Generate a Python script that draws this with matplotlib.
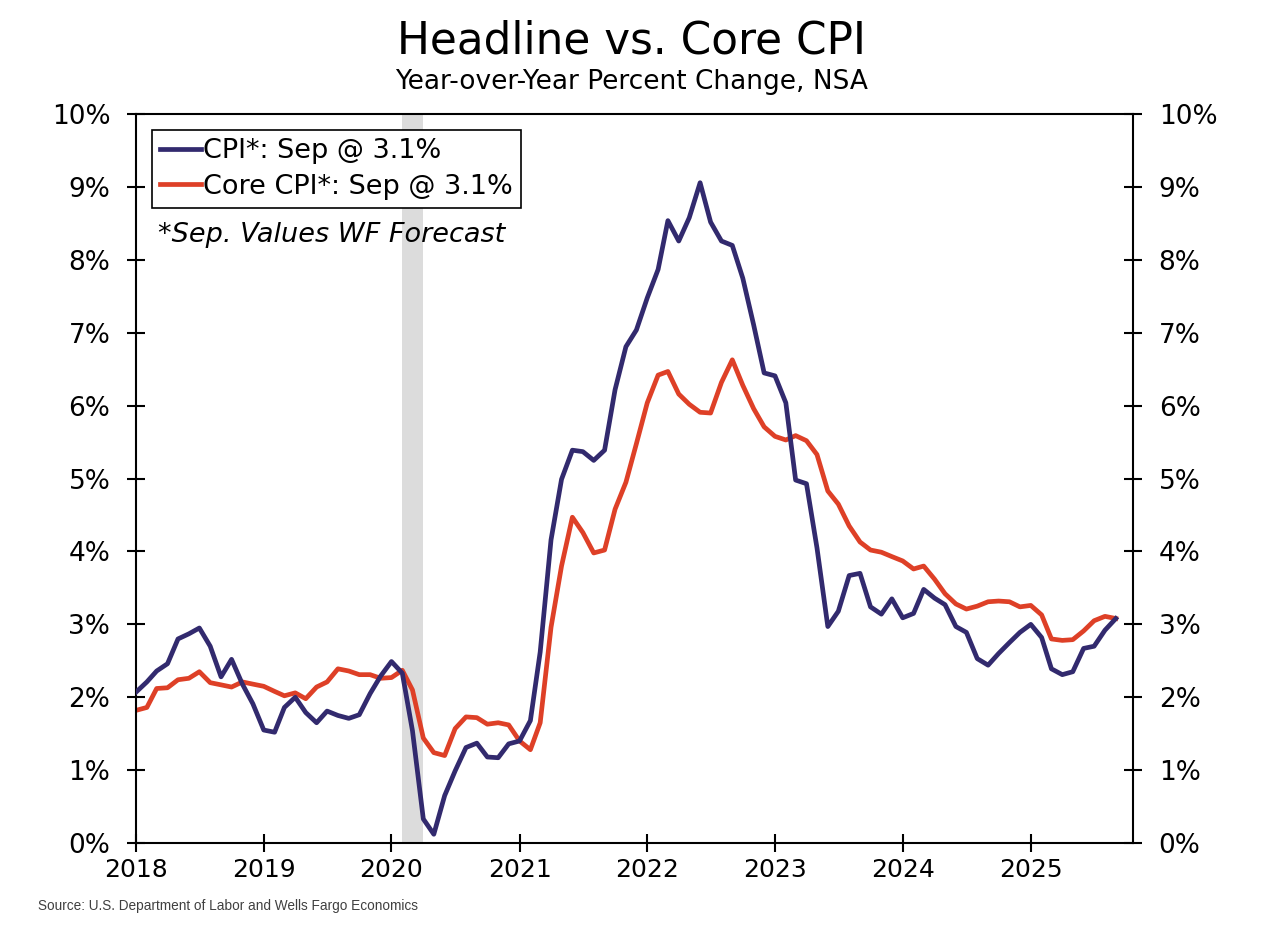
import numpy as np
import pandas as pd
import matplotlib.pyplot as plt
import matplotlib.dates as mdates

# Monthly YoY % change, Jan 2018 - Sep 2025
cpi = [2.07, 2.21, 2.36, 2.46, 2.80, 2.87, 2.95, 2.70, 2.28, 2.52, 2.18, 1.91,
       1.55, 1.52, 1.86, 2.00, 1.79, 1.65, 1.81, 1.75, 1.71, 1.76, 2.05, 2.29,
       2.49, 2.33, 1.54, 0.33, 0.12, 0.65, 0.99, 1.31, 1.37, 1.18, 1.17, 1.36,
       1.40, 1.68, 2.62, 4.16, 4.99, 5.39, 5.37, 5.25, 5.39, 6.22, 6.81, 7.04,
       7.48, 7.87, 8.54, 8.26, 8.58, 9.06, 8.52, 8.26, 8.20, 7.75, 7.11, 6.45,
       6.41, 6.04, 4.98, 4.93, 4.05, 2.97, 3.18, 3.67, 3.70, 3.24, 3.14, 3.35,
       3.09, 3.15, 3.48, 3.36, 3.27, 2.97, 2.89, 2.53, 2.44, 2.60, 2.75, 2.89,
       3.00, 2.82, 2.39, 2.31, 2.35, 2.67, 2.70, 2.92, 3.08]
core = [1.82, 1.86, 2.12, 2.13, 2.24, 2.26, 2.35, 2.20, 2.17, 2.14, 2.21, 2.18,
        2.15, 2.08, 2.02, 2.06, 1.98, 2.14, 2.21, 2.39, 2.36, 2.31, 2.31, 2.26,
        2.27, 2.37, 2.10, 1.44, 1.24, 1.20, 1.57, 1.73, 1.72, 1.63, 1.65, 1.62,
        1.40, 1.28, 1.65, 2.96, 3.80, 4.47, 4.26, 3.98, 4.02, 4.58, 4.95, 5.48,
        6.04, 6.42, 6.47, 6.16, 6.02, 5.91, 5.90, 6.32, 6.63, 6.28, 5.96, 5.71,
        5.58, 5.53, 5.59, 5.52, 5.33, 4.83, 4.65, 4.35, 4.13, 4.02, 3.99, 3.93,
        3.87, 3.76, 3.80, 3.62, 3.42, 3.28, 3.21, 3.25, 3.31, 3.32, 3.31, 3.24,
        3.26, 3.13, 2.80, 2.78, 2.79, 2.91, 3.05, 3.11, 3.08]
dates = pd.date_range("2018-01-01", periods=len(cpi), freq="MS")
recession = (pd.Timestamp("2020-02-01"), pd.Timestamp("2020-04-01"))
year_ticks = [pd.Timestamp(f"{y}-01-01") for y in range(2018, 2026)]

blue = "#322A6E"
red = "#DE4027"

plt.rcParams["font.family"] = ["DejaVu Sans"]
fig = plt.figure(figsize=(12.76, 9.44), dpi=100)
ax = fig.add_axes([0.1066, 0.107, 0.7813, 0.772])

ax.axvspan(recession[0], recession[1], color="#DCDCDC", lw=0, zorder=0)
ax.plot(dates, cpi, color=blue, lw=3.4, label="CPI*: Sep @ 3.1%", zorder=3)
ax.plot(dates, core, color=red, lw=3.4, label="Core CPI*: Sep @ 3.1%", zorder=2)

ax.set_xlim(pd.Timestamp("2018-01-01"), pd.Timestamp("2025-10-20"))
ax.set_ylim(0, 10)
ax.set_xticks(year_ticks)
ax.xaxis.set_major_formatter(mdates.DateFormatter("%Y"))
ax.set_yticks(range(0, 11))
ax.set_yticklabels([f"{v}%" for v in range(0, 11)])
ax.tick_params(axis="both", direction="inout", length=13, width=1.5,
               right=True, labelright=True)
ax.tick_params(axis="y", labelsize=19, pad=12)
ax.tick_params(axis="x", labelsize=18, pad=4)
for s in ax.spines.values():
    s.set_linewidth(1.5)

leg = ax.legend(loc="upper left", bbox_to_anchor=(0.016, 0.978), borderaxespad=0,
                fontsize=19.5, handlelength=1.5, handletextpad=0.1, borderpad=0.3,
                labelspacing=0.35, fancybox=False, edgecolor="black", framealpha=1)
leg.get_frame().set_linewidth(1.2)
ax.text(0.022, 0.834, "*Sep. Values WF Forecast", transform=ax.transAxes,
        fontsize=19.5, style="italic", va="center")

fig.text(0.495, 0.957, "Headline vs. Core CPI", ha="center", va="center", fontsize=31.5)
fig.text(0.495, 0.913, "Year-over-Year Percent Change, NSA", ha="center", va="center",
         fontsize=19)
fig.text(0.03, 0.04, "Source: U.S. Department of Labor and Wells Fargo Economics",
         fontsize=9.8, color="#404040", family="Liberation Sans", va="center")

fig.savefig("out.png", dpi=100)
